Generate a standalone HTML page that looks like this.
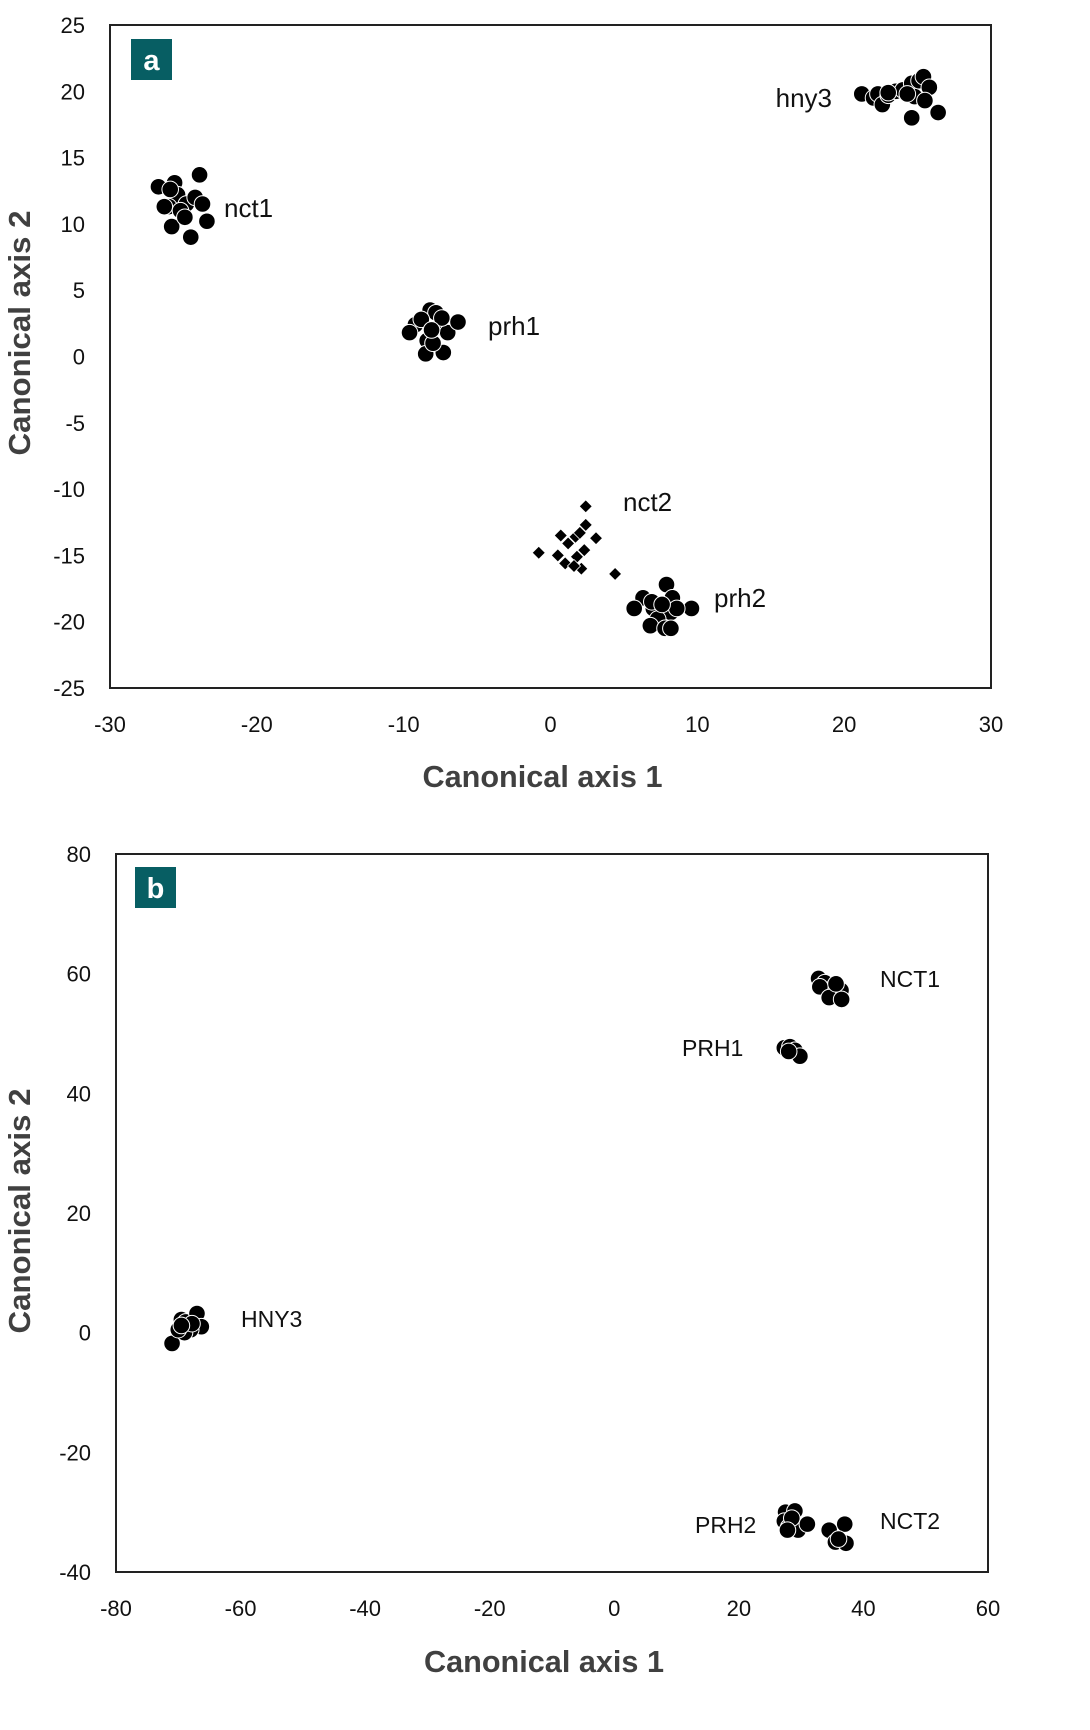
<!DOCTYPE html>
<html><head><meta charset="utf-8"><style>
html,body{margin:0;padding:0;background:#fff;}
svg{display:block;}
text{font-family:"Liberation Sans",sans-serif;}
</style></head><body>
<svg id="chart" width="1090" height="1730" viewBox="0 0 1090 1730" xmlns="http://www.w3.org/2000/svg"></svg>
<script>
// Panel a data
const aXTicks = [-30,-20,-10,0,10,20,30];
const aYTicks = [25,20,15,10,5,0,-5,-10,-15,-20,-25];
const aNct1 = [[-26.7,12.8],[-25.6,13.1],[-23.9,13.7],[-25.4,12.2],[-26.0,11.3],[-24.8,11.5],[-24.2,12.0],[-23.7,11.5],[-23.4,10.2],[-25.8,9.8],[-24.5,9.0],[-26.3,11.3],[-25.2,11.0],[-24.9,10.5],[-25.9,12.6]];
const aPrh1 = [[-8.2,3.5],[-7.8,3.3],[-9.2,2.4],[-9.6,1.8],[-8.4,1.2],[-7.6,2.2],[-7.0,1.8],[-6.3,2.6],[-8.5,0.2],[-7.3,0.3],[-8.0,1.0],[-8.8,2.8],[-7.4,2.9],[-8.1,2.0]];
const aHny3 = [[21.2,19.8],[22.0,19.5],[22.3,19.8],[22.6,19.0],[23.0,19.7],[23.5,20.0],[24.0,20.1],[24.6,20.6],[24.8,19.6],[25.1,20.8],[25.4,21.1],[25.8,20.3],[25.5,19.3],[24.6,18.0],[26.4,18.4],[23.0,19.9],[24.3,19.8]];
const aNct2 = [[2.4,-11.3],[2.4,-12.7],[0.7,-13.5],[1.7,-13.6],[3.1,-13.7],[1.2,-14.1],[2.3,-14.6],[-0.8,-14.8],[0.5,-15.0],[1.8,-15.1],[1.0,-15.6],[2.1,-16.0],[1.6,-15.8],[4.4,-16.4],[2.0,-13.3]];
const aPrh2 = [[6.3,-18.2],[7.9,-17.2],[8.3,-18.2],[5.7,-19.0],[7.0,-19.0],[8.2,-19.3],[9.6,-19.0],[7.3,-19.8],[6.8,-20.3],[7.8,-20.5],[8.2,-20.5],[6.9,-18.5],[8.6,-19.0],[7.6,-18.7]];
// Panel b data
const bXTicks = [-80,-60,-40,-20,0,20,40,60];
const bYTicks = [80,60,40,20,0,-20,-40];
const bHny3 = [[-71,-1.8],[-69.5,2.2],[-68.8,1.8],[-67,3.2],[-66.3,1.0],[-68,0.5],[-69,0],[-70,0.5],[-67.8,1.5],[-69.5,1.2]];
const bNct1 = [[32.8,59.2],[33.8,58.5],[35.3,57.8],[36.4,57.2],[33.0,57.8],[34.5,56.0],[36.5,55.7],[35.6,58.3]];
const bPrh1 = [[27.3,47.6],[28.2,47.8],[29.0,47.2],[29.8,46.2],[28.0,47.0]];
const bPrh2 = [[27.5,-30],[29,-29.8],[27.3,-31.5],[28,-32.5],[29.5,-33],[31,-32],[28.5,-31],[27.8,-33]];
const bNct2 = [[34.5,-33],[35.5,-35],[37,-32],[37.2,-35.2],[36,-34.5]];

const NS='http://www.w3.org/2000/svg';
const svg=document.getElementById('chart');
function mk(tag,attrs,parent){const e=document.createElementNS(NS,tag);for(const k in attrs)e.setAttribute(k,attrs[k]);(parent||svg).appendChild(e);return e;}
function txt(s,attrs,parent){const e=mk('text',attrs,parent);e.textContent=s;return e;}

function panel(cfg){
  const g=mk('g',{});
  
  
  const sx=v=>cfg.L+(v-cfg.xmin)/(cfg.xmax-cfg.xmin)*(cfg.R-cfg.L);
  const sy=v=>cfg.B-(v-cfg.ymin)/(cfg.ymax-cfg.ymin)*(cfg.B-cfg.T);
  const fr=mk('rect',{x:cfg.L,y:cfg.T,width:cfg.R-cfg.L,height:cfg.B-cfg.T,fill:'none',stroke:'#222','stroke-width':2},g);
  
  
  cfg.xt.forEach(v=>{const t=txt(String(v),{x:sx(v),y:cfg.B+44,'text-anchor':'middle','font-size':22,fill:'#111'},g);
    
    });
  cfg.yt.forEach(v=>{const t=txt(String(v),{x:cfg.L-25,y:sy(v)+8,'text-anchor':'end','font-size':22,fill:'#111'},g);
    
    });
  const xt=txt('Canonical axis 1',{x:(cfg.L+cfg.R)/2-8,y:cfg.xTitleY,'text-anchor':'middle','font-size':31,'font-weight':'bold',fill:'#404040',transform:'',textLength:240,lengthAdjust:'spacingAndGlyphs'},g);
  
  
  const yt=txt('Canonical axis 2',{x:0,y:0,'text-anchor':'middle','font-size':31,'font-weight':'bold',fill:'#404040',transform:`translate(30,${cfg.yTitleC}) rotate(-90)`,textLength:245,lengthAdjust:'spacingAndGlyphs'},g);
  
  
  const bd=mk('rect',{x:cfg.badge[0],y:cfg.badge[1],width:41,height:41,fill:'#075e63'},g);
  
  
  const bt=txt(cfg.letter,{x:cfg.badge[0]+20.5,y:cfg.badge[1]+31,'text-anchor':'middle','font-size':29,'font-weight':'bold',fill:'#fff'},g);
  
  
  cfg.series.forEach(s=>{
    const sg=mk('g',{},g);
    
    
    s.data.forEach(p=>{
      let m;
      if(s.diamond){const cx=sx(p[0]),cy=sy(p[1]),r=6.5;
        m=mk('path',{d:`M${cx} ${cy-r}L${cx+r} ${cy}L${cx} ${cy+r}L${cx-r} ${cy}Z`,fill:'#000',stroke:'#fff','stroke-width':0.8},sg);}
      else m=mk('circle',{cx:sx(p[0]),cy:sy(p[1]),r:8.3,fill:'#000',stroke:'#fff','stroke-width':1},sg);
      
      
    });
    const lt=txt(s.label,{x:s.lx,y:s.ly,'text-anchor':s.anchor||'start','font-size':cfg.lfs,fill:'#111'},g);
    
    
  });
}

panel({name:'panel-a',letter:'a',L:110,R:991,T:25,B:688,xmin:-30,xmax:30,ymin:-25,ymax:25,xt:aXTicks,yt:aYTicks,
  xTitleY:787,yTitleC:333,badge:[131,39],lfs:26,
  series:[{label:'nct1',data:aNct1,lx:224,ly:217},{label:'prh1',data:aPrh1,lx:488,ly:335},
    {label:'hny3',data:aHny3,lx:832,ly:107,anchor:'end'},{label:'nct2',data:aNct2,diamond:true,lx:623,ly:511},
    {label:'prh2',data:aPrh2,lx:714,ly:607}]});
panel({name:'panel-b',letter:'b',L:116,R:988,T:854,B:1572,xmin:-80,xmax:60,ymin:-40,ymax:80,xt:bXTicks,yt:bYTicks,
  xTitleY:1672,yTitleC:1211,badge:[135,867],lfs:23,
  series:[{label:'HNY3',data:bHny3,lx:241,ly:1327},{label:'NCT1',data:bNct1,lx:880,ly:987},
    {label:'PRH1',data:bPrh1,lx:682,ly:1056},{label:'PRH2',data:bPrh2,lx:695,ly:1533},
    {label:'NCT2',data:bNct2,lx:880,ly:1529}]});
</script>
</body></html>
